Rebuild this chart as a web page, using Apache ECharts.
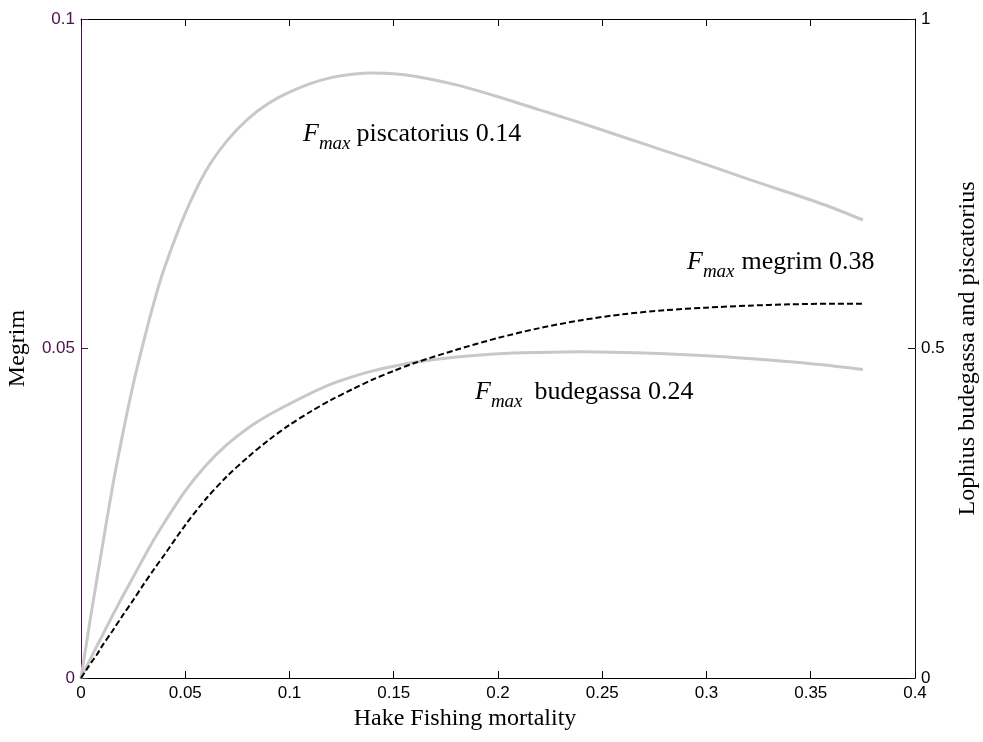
<!DOCTYPE html>
<html>
<head>
<meta charset="utf-8">
<script src="https://cdn.jsdelivr.net/npm/echarts@6/dist/echarts.min.js"></script>
<style>
html,body{margin:0;padding:0;background:#fff;overflow:hidden;}
#c{width:983px;height:742px;}
</style>
</head>
<body>
<div id="c"></div>
<script>
// Hake fishing mortality grid
const fGrid = [0, 0.0025, 0.005, 0.0075, 0.01, 0.015, 0.02, 0.025, 0.03, 0.035, 0.04, 0.05, 0.06, 0.07, 0.08, 0.09, 0.1, 0.11, 0.12, 0.13, 0.14, 0.15, 0.16, 0.18, 0.2, 0.22, 0.24, 0.26, 0.28, 0.3, 0.32, 0.34, 0.36, 0.375];
// Megrim (left axis)
const megrim = [0, 0.0012, 0.0024, 0.0035, 0.0048, 0.0071, 0.0095, 0.0118, 0.0142, 0.0165, 0.0187, 0.0232, 0.0272, 0.0306, 0.0335, 0.0361, 0.0384, 0.0404, 0.0422, 0.0438, 0.0453, 0.0466, 0.0478, 0.0498, 0.0516, 0.0531, 0.0543, 0.0552, 0.0558, 0.0562, 0.0565, 0.0567, 0.0568, 0.0568];
// Lophius budegassa (right axis)
const budegassa = [0, 0.016, 0.032, 0.048, 0.063, 0.094, 0.124, 0.153, 0.182, 0.21, 0.236, 0.284, 0.323, 0.354, 0.379, 0.399, 0.416, 0.432, 0.446, 0.457, 0.466, 0.473, 0.479, 0.487, 0.492, 0.494, 0.495, 0.494, 0.492, 0.489, 0.485, 0.48, 0.474, 0.468];
// Lophius piscatorius (right axis)
const piscatorius = [0, 0.05, 0.10, 0.148, 0.195, 0.288, 0.37, 0.445, 0.51, 0.57, 0.622, 0.705, 0.77, 0.815, 0.848, 0.872, 0.889, 0.902, 0.911, 0.916, 0.918, 0.917, 0.913, 0.90, 0.882, 0.862, 0.842, 0.821, 0.80, 0.779, 0.757, 0.736, 0.714, 0.695];

const xTickLabels = ['0', '0.05', '0.1', '0.15', '0.2', '0.25', '0.3', '0.35', '0.4'];
const leftTickLabels = ['0', '0.05', '0.1'];
const rightTickLabels = ['0', '0.5', '1'];

const annotations = [
  {species: 'piscatorius', fmax: '0.14', gap: 6},
  {species: 'budegassa', fmax: '0.24', gap: 12},
  {species: 'megrim', fmax: '0.38', gap: 7}
];
const annoPos = [[303, 121], [475, 379], [687, 249]];

const zip = (xs, ys) => xs.map((x, i) => [x, ys[i]]);

const purple = '#4d0f4d';
const serif = '"Liberation Serif", "Times New Roman", serif';
const sans = '"Liberation Sans", Arial, sans-serif';

const chart = echarts.init(document.getElementById('c'), null, {renderer: 'canvas'});

const option = {
  animation: false,
  backgroundColor: '#fff',
  grid: {left: 81, top: 19, right: 68, bottom: 64, containLabel: false, outerBoundsMode: 'none'},
  xAxis: [
    {
      type: 'value', min: 0, max: 0.4, interval: 0.05, position: 'bottom',
      axisLine: {show: true, onZero: false, lineStyle: {color: '#000', width: 1}},
      axisTick: {show: true, inside: true, length: 7, lineStyle: {color: '#000'}},
      axisLabel: {color: '#000', fontFamily: sans, fontSize: 17, margin: 7,
        formatter: (v, i) => xTickLabels[i]},
      splitLine: {show: false},
      name: 'Hake Fishing mortality', nameLocation: 'middle', nameGap: 29,
      nameTextStyle: {fontFamily: serif, fontSize: 24, color: '#000', padding: [0, 66, 0, 0]}
    },
    {
      type: 'value', min: 0, max: 0.4, interval: 0.05, position: 'top',
      axisLine: {show: true, onZero: false, lineStyle: {color: '#000', width: 1}},
      axisTick: {show: true, inside: true, length: 7, lineStyle: {color: '#000'}},
      axisLabel: {show: false}, splitLine: {show: false}
    }
  ],
  yAxis: [
    {
      type: 'value', min: 0, max: 0.1, interval: 0.05, position: 'left',
      axisLine: {show: true, onZero: false, lineStyle: {color: purple, width: 1}},
      axisTick: {show: true, inside: true, length: 7, lineStyle: {color: purple}},
      axisLabel: {color: purple, fontFamily: sans, fontSize: 17, margin: 6,
        formatter: (v, i) => leftTickLabels[i]},
      splitLine: {show: false},
      name: 'Megrim', nameLocation: 'middle', nameGap: 51, nameRotate: 90,
      nameTextStyle: {fontFamily: serif, fontSize: 24, color: '#000'}
    },
    {
      type: 'value', min: 0, max: 1, interval: 0.5, position: 'right',
      axisLine: {show: true, onZero: false, lineStyle: {color: '#1a0d1a', width: 1}},
      axisTick: {show: true, inside: true, length: 7, lineStyle: {color: '#1a0d1a'}},
      axisLabel: {color: '#000', fontFamily: sans, fontSize: 17, margin: 6,
        formatter: (v, i) => rightTickLabels[i]},
      splitLine: {show: false},
      name: 'Lophius budegassa and piscatorius', nameLocation: 'middle', nameGap: 38, nameRotate: 90,
      nameTextStyle: {fontFamily: serif, fontSize: 24, color: '#000'}
    }
  ],
  series: [
    {
      name: 'piscatorius', type: 'line', xAxisIndex: 0, yAxisIndex: 1,
      data: zip(fGrid, piscatorius), showSymbol: false, symbol: 'none', smooth: 0.3,
      lineStyle: {color: '#c8c8c8', width: 3}, z: 2
    },
    {
      name: 'budegassa', type: 'line', xAxisIndex: 0, yAxisIndex: 1,
      data: zip(fGrid, budegassa), showSymbol: false, symbol: 'none', smooth: 0.3,
      lineStyle: {color: '#c8c8c8', width: 3}, z: 2
    },
    {
      name: 'megrim', type: 'line', xAxisIndex: 0, yAxisIndex: 0,
      data: zip(fGrid, megrim), showSymbol: false, symbol: 'none', smooth: 0.3,
      lineStyle: {color: '#000', width: 2, type: [6, 3]}, z: 3
    }
  ],
  graphic: annotations.map((a, i) => ({
    type: 'text', left: annoPos[i][0], top: annoPos[i][1], z: 10,
    style: {
      text: '{F|F}{m|max}{t|' + a.species + ' ' + a.fmax + '}',
      rich: {
        F: {fontFamily: serif, fontStyle: 'italic', fontSize: 26, color: '#000'},
        m: {fontFamily: serif, fontStyle: 'italic', fontSize: 19, color: '#000', padding: [20, a.gap, 0, 0]},
        t: {fontFamily: serif, fontSize: 26, color: '#000'}
      }
    }
  }))
};

chart.setOption(option);
</script>
</body>
</html>
